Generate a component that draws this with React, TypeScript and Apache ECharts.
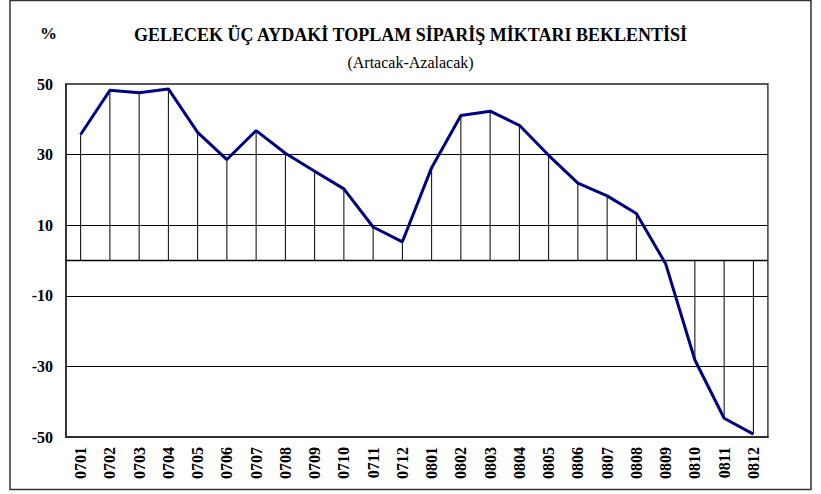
import React, { useEffect, useRef } from "react";
import * as echarts from "echarts";

const categories = [
  "0701", "0702", "0703", "0704", "0705", "0706", "0707", "0708", "0709", "0710", "0711", "0712",
  "0801", "0802", "0803", "0804", "0805", "0806", "0807", "0808", "0809", "0810", "0811", "0812",
];
const values = [
  35.7, 48.2, 47.5, 48.6, 36.3, 28.6, 36.8, 30.4, 25.3, 20.3, 9.5, 5.3,
  26.3, 41.1, 42.3, 38.3, 29.8, 21.9, 18.3, 13.3, -0.9, -28.2, -44.7, -49.2,
];
const gridValues = [30, 10, -10, -30];
const yLabels = [50, 30, 10, -10, -30, -50];
const yearStartIndex = 12;

const titleText = "GELECEK ÜÇ AYDAKİ TOPLAM SİPARİŞ MİKTARI BEKLENTİSİ";
const subtitleText = "(Artacak-Azalacak)";
const serif = "Liberation Serif";

export default function App() {
  const ref = useRef<HTMLDivElement>(null);
  useEffect(() => {
    document.body.style.margin = "0";
    const chart = echarts.init(ref.current!, null, { renderer: "svg" });
    chart.setOption({
      animation: false,
      backgroundColor: "#fff",
      grid: { left: 66, right: 53, top: 84, bottom: 57, show: true, borderColor: "#222", borderWidth: 1.5, backgroundColor: "transparent" },
      title: [
        { text: titleText, left: "center", top: 21, textStyle: { fontFamily: serif, fontWeight: "bold", fontSize: 18, color: "#000" } },
        { text: subtitleText, left: "center", top: 49, textStyle: { fontFamily: serif, fontWeight: "normal", fontSize: 16, color: "#000" } },
        { text: "%", left: 35, top: 20, textStyle: { fontFamily: serif, fontWeight: "bold", fontSize: 17, color: "#000" } },
      ],
      graphic: [
        { type: "rect", shape: { x: 10, y: 0.5, width: 801, height: 489 }, style: { fill: "none", stroke: "#333", lineWidth: 1.5 }, silent: true },
      ],
      xAxis: {
        type: "category",
        data: categories,
        boundaryGap: true,
        axisLine: { onZero: false, lineStyle: { color: "#222", width: 1.5 } },
        axisTick: { show: false },
        splitLine: { show: true, interval: (i: number) => i === yearStartIndex, lineStyle: { color: "#808080", width: 1 } },
        axisLabel: { rotate: 90, interval: 0, margin: 10, fontFamily: serif, fontWeight: "bold", fontSize: 16, color: "#000" },
      },
      yAxis: {
        type: "value",
        min: -50,
        max: 50,
        interval: 10,
        axisLine: { show: true, lineStyle: { color: "#222", width: 1.5 } },
        axisTick: { show: false },
        splitLine: { show: false },
        axisLabel: {
          margin: 13,
          fontFamily: serif,
          fontWeight: "bold",
          fontSize: 16,
          color: "#000",
          formatter: (v: number) => (yLabels.includes(v) ? String(v) : ""),
        },
      },
      series: [
        {
          type: "bar",
          data: values,
          barWidth: 1,
          itemStyle: { color: "#000" },
          silent: true,
          z: 2,
        },
        {
          type: "line",
          data: values,
          symbol: "none",
          lineStyle: { color: "#000080", width: 3 },
          z: 5,
          markLine: {
            silent: true,
            symbol: "none",
            label: { show: false },
            lineStyle: { color: "#000", width: 1, type: "solid" },
            data: [...gridValues.map((v) => ({ yAxis: v })), { yAxis: 0, lineStyle: { color: "#000", width: 1.3, type: "solid" } }],
            z: 1,
          },
        },
      ],
    });
    return () => chart.dispose();
  }, []);
  return <div ref={ref} style={{ width: 821, height: 494 }} />;
}
